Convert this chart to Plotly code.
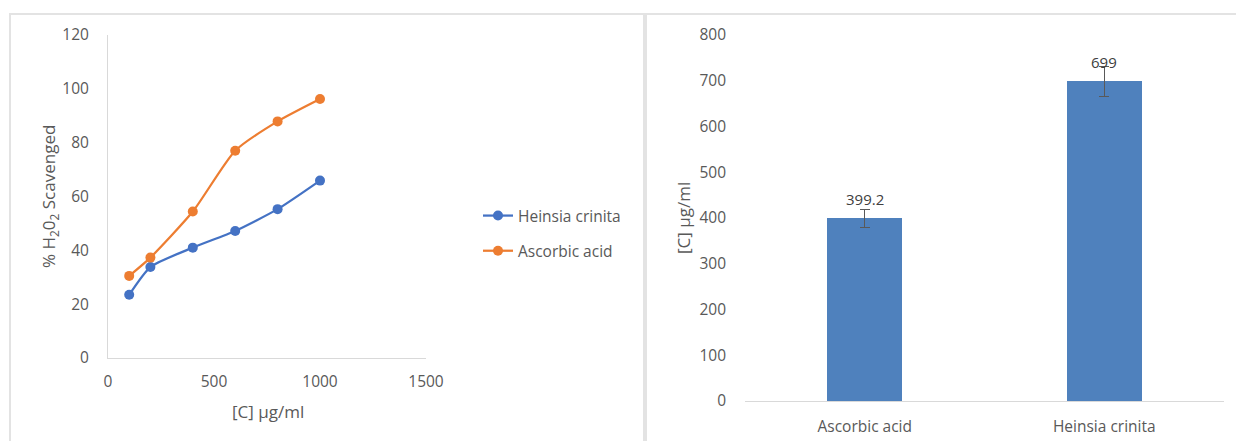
import plotly.graph_objects as go

# Concentration series (µg/ml) and % H2O2 scavenged
conc = [100, 200, 400, 600, 800, 1000]
heinsia_pct = [23.5, 33.8, 41.0, 47.2, 55.3, 65.9]
ascorbic_pct = [30.5, 37.3, 54.4, 77.0, 87.9, 96.2]

# IC50-style summary values with error
samples = ["Ascorbic acid", "Heinsia crinita"]
ic_values = [399.2, 699]
ic_errors = [19, 33]

W, H = 1236, 441
TXT = "#595959"
AXIS = "#D9D9D9"
FONT = "Open Sans"

fig = go.Figure()

fig.add_trace(go.Scatter(
    x=conc, y=heinsia_pct, name="Heinsia crinita", mode="lines+markers",
    line=dict(color="#4472C4", width=2.25, shape="spline", smoothing=0.6),
    marker=dict(size=10, color="#4472C4"),
    legendgroup="a", xaxis="x", yaxis="y"))
fig.add_trace(go.Scatter(
    x=conc, y=ascorbic_pct, name="Ascorbic acid", mode="lines+markers",
    line=dict(color="#ED7D31", width=2.25, shape="spline", smoothing=0.6),
    marker=dict(size=10, color="#ED7D31"),
    legendgroup="b", xaxis="x", yaxis="y"))

fig.add_trace(go.Bar(
    x=samples, y=ic_values, width=0.315, showlegend=False,
    marker=dict(color="#4F81BD", line=dict(color="#4F81BD", width=0)),
    error_y=dict(type="data", array=ic_errors, visible=True,
                 color="#595959", thickness=1, width=5),
    xaxis="x2", yaxis="y2"))

# page pixel -> paper fraction
def px(x):
    return x / W

def py(y):
    return 1 - y / H

tickfont = dict(family=FONT, size=15.5, color=TXT)
common = dict(showgrid=False, zeroline=False, ticks="", tickfont=tickfont,
              automargin=False)

fig.update_layout(
    template="none",
    width=W, height=H, autosize=False,
    margin=dict(l=0, r=0, t=0, b=0, pad=0, autoexpand=False),
    paper_bgcolor="white", plot_bgcolor="white",
    font=dict(family=FONT, color=TXT, size=15.5),
    xaxis=dict(common, domain=[px(108), px(426)], range=[0, 1500], dtick=500,
               showline=True, linecolor=AXIS, linewidth=1,
               ticklabelstandoff=9, anchor="y"),
    yaxis=dict(common, domain=[py(358), py(35)], range=[0, 120], dtick=20,
               showline=True, linecolor=AXIS, linewidth=1,
               ticklabelstandoff=15, anchor="x"),
    xaxis2=dict(common, domain=[px(745), px(1224)], range=[-0.5, 1.5],
                showline=True, linecolor=AXIS, linewidth=1,
                ticklabelstandoff=11, anchor="y2"),
    yaxis2=dict(common, domain=[py(401), py(35)], range=[0, 800], dtick=100,
                showline=False, ticklabelstandoff=18, anchor="x2"),
    bargap=0,
    legend=dict(x=px(478), y=py(199), xanchor="left", yanchor="top",
                font=dict(family=FONT, size=15.5, color=TXT),
                tracegroupgap=12, itemwidth=30, bgcolor="rgba(0,0,0,0)",
                borderwidth=0),
)

ann = dict(xref="paper", yref="paper", showarrow=False,
           xanchor="center", yanchor="middle")
annotations = [
    dict(ann, text="% H<sub>2</sub>0<sub>2</sub> Scavenged",
         x=px(49), y=py(197), textangle=-90,
         font=dict(family=FONT, size=17, color=TXT)),
    dict(ann, text="[C] µg/ml", x=px(268), y=py(411),
         font=dict(family=FONT, size=17, color=TXT)),
    dict(ann, text="[C] µg/ml", x=px(684), y=py(218), textangle=-90,
         font=dict(family=FONT, size=17, color=TXT)),
]
for s, v in zip(samples, ic_values):
    annotations.append(dict(text=f"{v:g}", x=s, y=v, xref="x2", yref="y2",
                            showarrow=False, yanchor="middle", yshift=19,
                            font=dict(family=FONT, size=15, color="#404040")))
fig.update_layout(annotations=annotations)

# Panel frames
frame = dict(type="rect", xref="paper", yref="paper",
             line=dict(color="#E3E3E3", width=2), fillcolor="rgba(0,0,0,0)")
fig.update_layout(shapes=[
    dict(frame, x0=px(10), x1=px(644), y0=py(445), y1=py(14)),
    dict(frame, x0=px(646), x1=px(1240), y0=py(445), y1=py(14)),
])

fig.write_html("out.html")
